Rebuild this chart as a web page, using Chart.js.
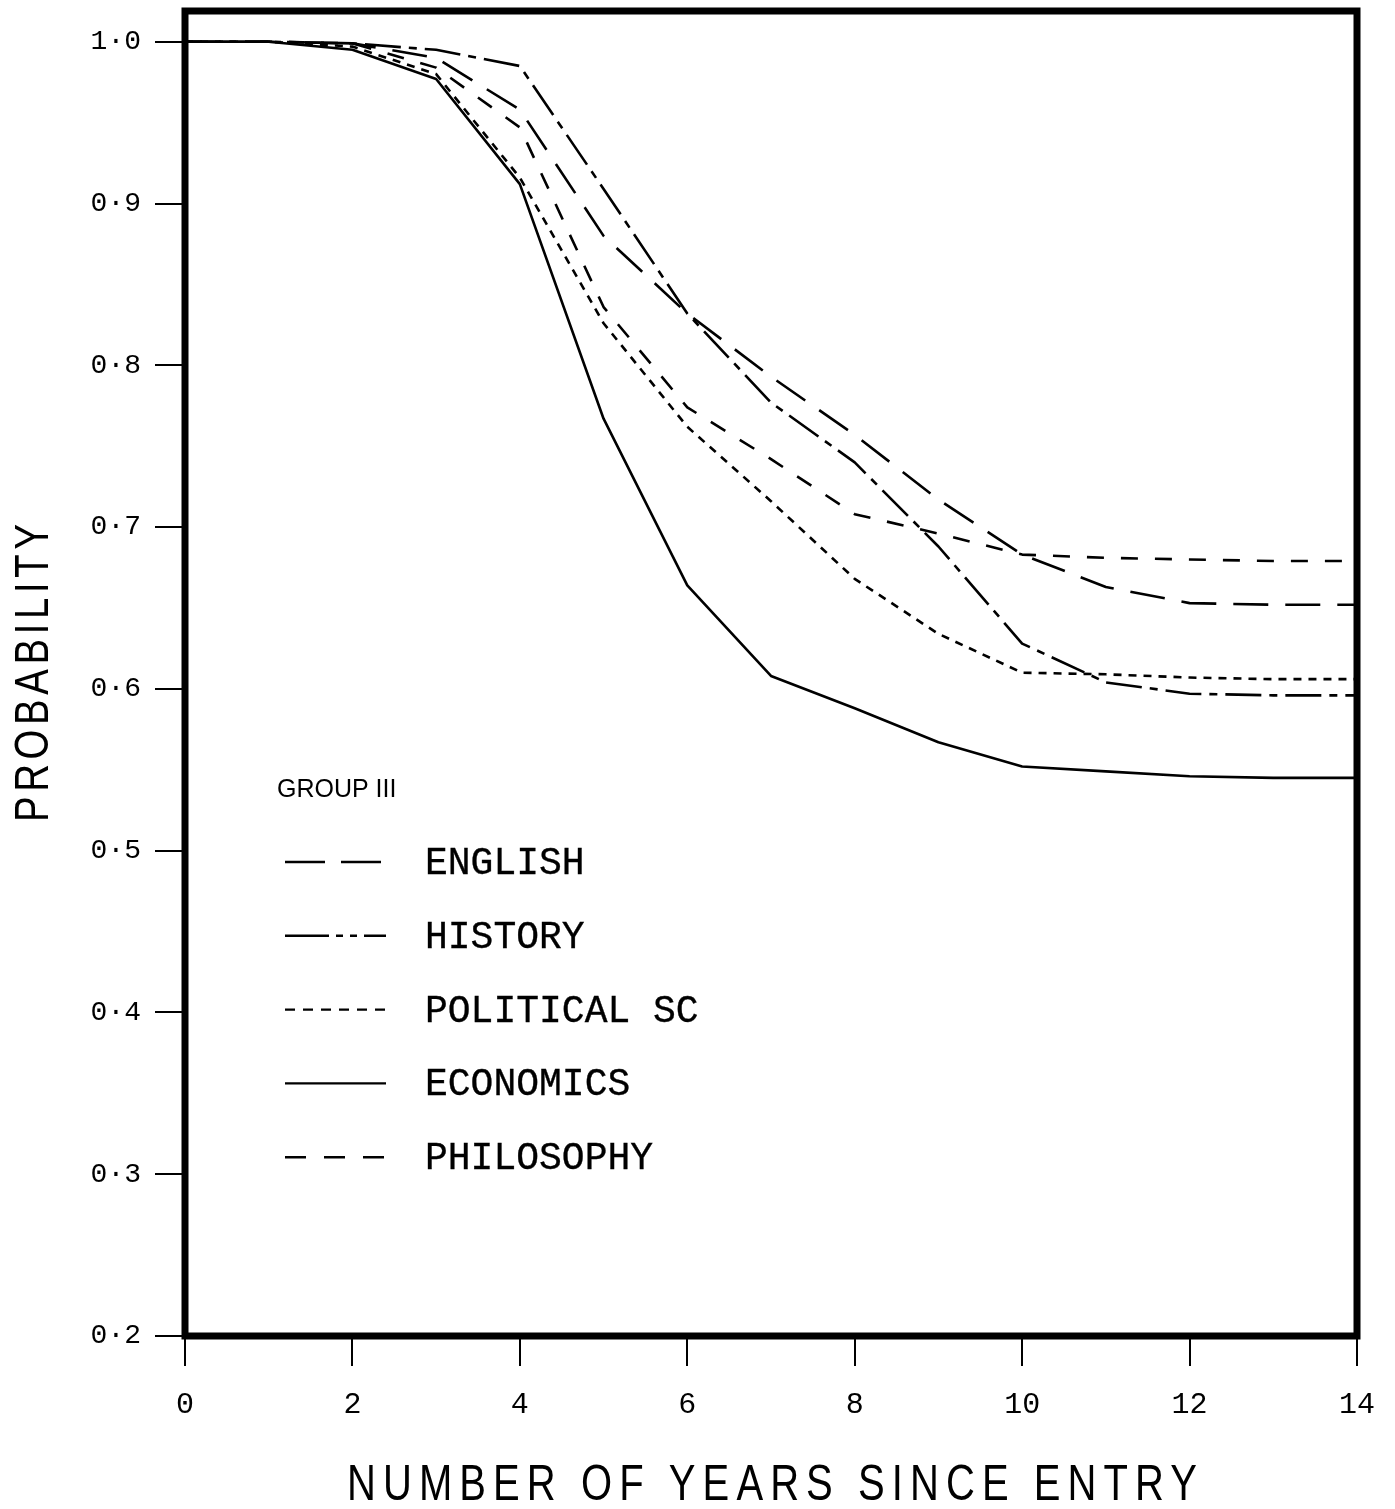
<!DOCTYPE html>
<html>
<head>
<meta charset="utf-8">
<script src="https://cdn.jsdelivr.net/npm/chart.js@4.4.0/dist/chart.umd.min.js"></script>
<style>
  html, body { margin: 0; padding: 0; background: #fff; }
  #chart { display: block; }
</style>
</head>
<body>
<canvas id="chart" width="1395" height="1509"></canvas>
<script>
// --- DATA ---
const years = [0, 1, 2, 3, 4, 5, 6, 7, 8, 9, 10, 11, 12, 13, 14];

const english    = [1.0, 1.0, 0.999, 0.990, 0.958, 0.880, 0.832, 0.793, 0.757, 0.717, 0.683, 0.663, 0.653, 0.652, 0.652];
const history    = [1.0, 1.0, 0.999, 0.995, 0.985, 0.909, 0.832, 0.777, 0.740, 0.688, 0.628, 0.604, 0.597, 0.596, 0.596];
const politicalSc = [1.0, 1.0, 0.997, 0.980, 0.916, 0.826, 0.762, 0.716, 0.668, 0.634, 0.610, 0.609, 0.607, 0.606, 0.606];
const economics  = [1.0, 1.0, 0.995, 0.977, 0.912, 0.767, 0.664, 0.608, 0.588, 0.567, 0.552, 0.549, 0.546, 0.545, 0.545];
const philosophy = [1.0, 1.0, 0.999, 0.984, 0.947, 0.836, 0.774, 0.742, 0.708, 0.696, 0.683, 0.681, 0.680, 0.679, 0.679];

const seriesNames = ["ENGLISH", "HISTORY", "POLITICAL SC", "ECONOMICS", "PHILOSOPHY"];
const xTicks = [0, 2, 4, 6, 8, 10, 12, 14];
const yTicks = [0.2, 0.3, 0.4, 0.5, 0.6, 0.7, 0.8, 0.9, 1.0];

const groupTitle = "GROUP III";
const xTitle = "NUMBER OF YEARS SINCE ENTRY";
const yTitle = "PROBABILITY";

function points(values) {
  return years.map((yr, i) => ({ x: yr, y: values[i] }));
}

function lineSet(label, values, dash, legendDash) {
  return {
    label: label,
    data: points(values),
    borderColor: "#000",
    borderWidth: 2.6,
    borderDash: dash,
    legendDash: legendDash,
    borderCapStyle: "butt",
    borderJoinStyle: "round",
    pointRadius: 0,
    tension: 0,
    fill: false,
  };
}

// --- PLUGINS ---
// heavy frame round the plotting area
const frame = {
  id: "frame",
  afterDatasetsDraw(chart) {
    const { ctx, chartArea: a } = chart;
    ctx.save();
    ctx.strokeStyle = "#000";
    ctx.lineWidth = 7;
    ctx.strokeRect(a.left, a.top, a.right - a.left, a.bottom - a.top);
    ctx.restore();
  },
};

// stretched, narrow lettering for the axis titles
function condensedText(ctx, text, x, y, width) {
  ctx.save();
  ctx.translate(x, y);
  ctx.scale(0.8, 1);
  ctx.letterSpacing = "0px";
  const w = ctx.measureText(text).width;
  const gap = (width / 0.8 - w) / (text.length - 1);
  ctx.letterSpacing = gap + "px";
  ctx.fillText(text, 0, 0);
  ctx.restore();
}

const titles = {
  id: "titles",
  afterDraw(chart) {
    const ctx = chart.ctx;
    ctx.save();
    ctx.fillStyle = "#000";
    ctx.textBaseline = "alphabetic";
    ctx.textAlign = "left";
    ctx.font = "50px 'Liberation Sans'";
    condensedText(ctx, xTitle, 347, 1500, 850);

    ctx.translate(48, 822);
    ctx.rotate(-Math.PI / 2);
    ctx.font = "48px 'Liberation Sans'";
    condensedText(ctx, yTitle, 0, 0, 298);
    ctx.restore();
  },
};

const legendBox = {
  id: "legendBox",
  afterDraw(chart) {
    const ctx = chart.ctx;
    ctx.save();
    ctx.fillStyle = "#000";
    ctx.strokeStyle = "#000";
    ctx.textBaseline = "alphabetic";
    ctx.font = "25px 'Liberation Sans'";
    ctx.fillText(groupTitle, 277, 797);

    chart.data.datasets.forEach((ds, i) => {
      const y = 862 + i * 73.8;
      ctx.beginPath();
      ctx.setLineDash(ds.legendDash);
      ctx.lineWidth = 2.4;
      ctx.moveTo(285, y);
      ctx.lineTo(386, y);
      ctx.stroke();
      ctx.setLineDash([]);
      ctx.font = "38px 'Liberation Mono'";
      ctx.lineWidth = 0.35;
      ctx.fillText(ds.label, 425, y + 12);
      ctx.strokeText(ds.label, 425, y + 12);
    });
    ctx.restore();
  },
};

// --- CHART ---
new Chart(document.getElementById("chart"), {
  type: "line",
  data: {
    datasets: [
      lineSet(seriesNames[0], english, [35, 17], [40, 16]),
      lineSet(seriesNames[1], history, [36, 8, 8, 8], [44, 7, 7, 7, 7, 7]),
      lineSet(seriesNames[2], politicalSc, [8, 7], [10, 8]),
      lineSet(seriesNames[3], economics, [], []),
      lineSet(seriesNames[4], philosophy, [17, 17], [21, 18]),
    ],
  },
  options: {
    responsive: false,
    animation: false,
    layout: { padding: { top: 11, right: 38, bottom: 0, left: 0 } },
    plugins: {
      legend: { display: false },
      tooltip: { enabled: false },
    },
    scales: {
      x: {
        type: "linear",
        min: 0,
        max: 14,
        afterBuildTicks: (scale) => {
          scale.ticks = xTicks.map((v) => ({ value: v }));
        },
        afterFit: (scale) => {
          scale.height = 173;
          scale.paddingLeft = 0;
          scale.paddingRight = 0;
        },
        grid: { drawOnChartArea: false, drawTicks: true, tickLength: 30, color: "#000", lineWidth: 2 },
        border: { display: false },
        ticks: {
          padding: 21,
          color: "#000",
          font: { family: "Liberation Mono", size: 30 },
          callback: (v) => String(v),
        },
      },
      y: {
        min: 0.2,
        max: 1.019,
        afterBuildTicks: (scale) => {
          scale.ticks = yTicks.map((v) => ({ value: v }));
        },
        afterFit: (scale) => {
          scale.width = 185;
          scale.paddingTop = 0;
          scale.paddingBottom = 0;
        },
        grid: { drawOnChartArea: false, drawTicks: true, tickLength: 30, color: "#000", lineWidth: 2 },
        border: { display: false },
        ticks: {
          padding: 14,
          color: "#000",
          font: { family: "Liberation Mono", size: 28 },
          callback: (v) => v.toFixed(1).replace(".", "·"),
        },
      },
    },
  },
  plugins: [frame, titles, legendBox],
});
</script>
</body>
</html>
